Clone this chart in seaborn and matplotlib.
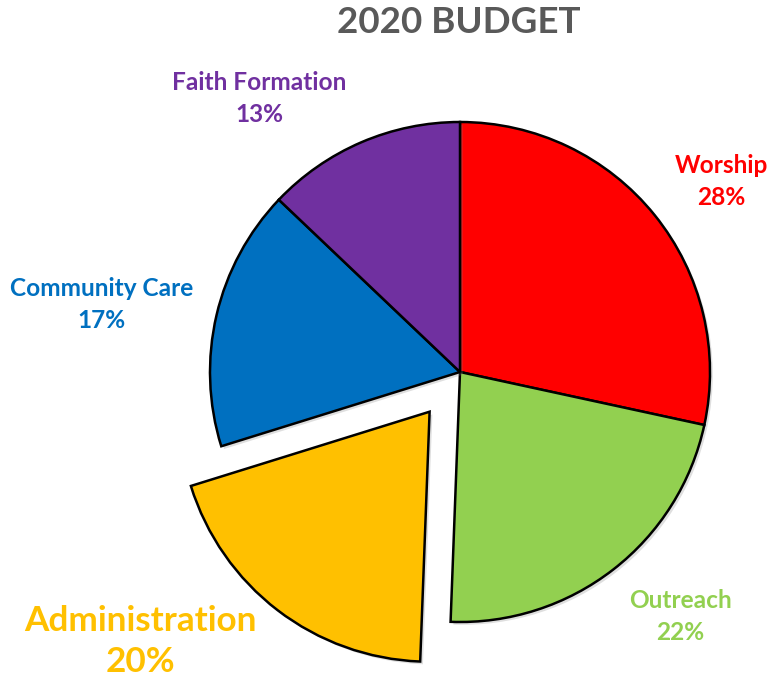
import matplotlib
matplotlib.use("Agg")
import matplotlib.pyplot as plt
import matplotlib.patheffects as pe
import seaborn as sns

categories = ["Worship", "Outreach", "Administration", "Community Care", "Faith Formation"]
values = [28.4, 22.2, 19.6, 16.9, 12.9]
pct_labels = ["28%", "22%", "20%", "17%", "13%"]
explode = [0, 0, 0.2, 0, 0]
colors = ["#FF0000", "#92D050", "#FFC000", "#0070C0", "#7030A0"]
title = "2020 BUDGET"

sns.set_theme(style="white")
plt.rcParams['font.family'] = ['Lato', 'DejaVu Sans']

W, H = 768, 683
CX, CY, R = 460, 372, 250

fig = plt.figure(figsize=(W / 100, H / 100), dpi=100)
ax = fig.add_axes([0, 0, 1, 1])

palette = sns.color_palette(colors)
wedges, _ = ax.pie(values, colors=palette, startangle=90, counterclock=False,
                   explode=explode, radius=1,
                   wedgeprops=dict(edgecolor="black", linewidth=1.8))
for w in wedges:
    w.set_path_effects([pe.SimplePatchShadow(offset=(2, -2), alpha=0.25, shadow_rgbFace="gray"),
                        pe.Normal()])

def px(x, y):
    return (x - CX) / R, (CY - y) / R

ax.set_xlim((0 - CX) / R, (W - CX) / R)
ax.set_ylim((CY - H) / R, (CY - 0) / R)
ax.set_aspect("equal")
ax.axis("off")

label_pos = [(721, 165), (680, 600), (140, 621), (102, 288), (259, 82)]
for i, (cat, pct) in enumerate(zip(categories, pct_labels)):
    x, y = label_pos[i]
    big = cat == "Administration"
    fs = 25.3 if big else 17.6
    gap = 41 if big else 32
    ax.text(*px(x, y), cat, color=colors[i], fontsize=fs, fontweight="bold",
            ha="center", va="center")
    ax.text(*px(x, y + gap), pct, color=colors[i], fontsize=fs, fontweight="bold",
            ha="center", va="center")

ax.text(*px(459, 22), title, color="#595959", fontsize=26.5, fontweight="bold",
        ha="center", va="center")

fig.savefig("out.png", dpi=100)
